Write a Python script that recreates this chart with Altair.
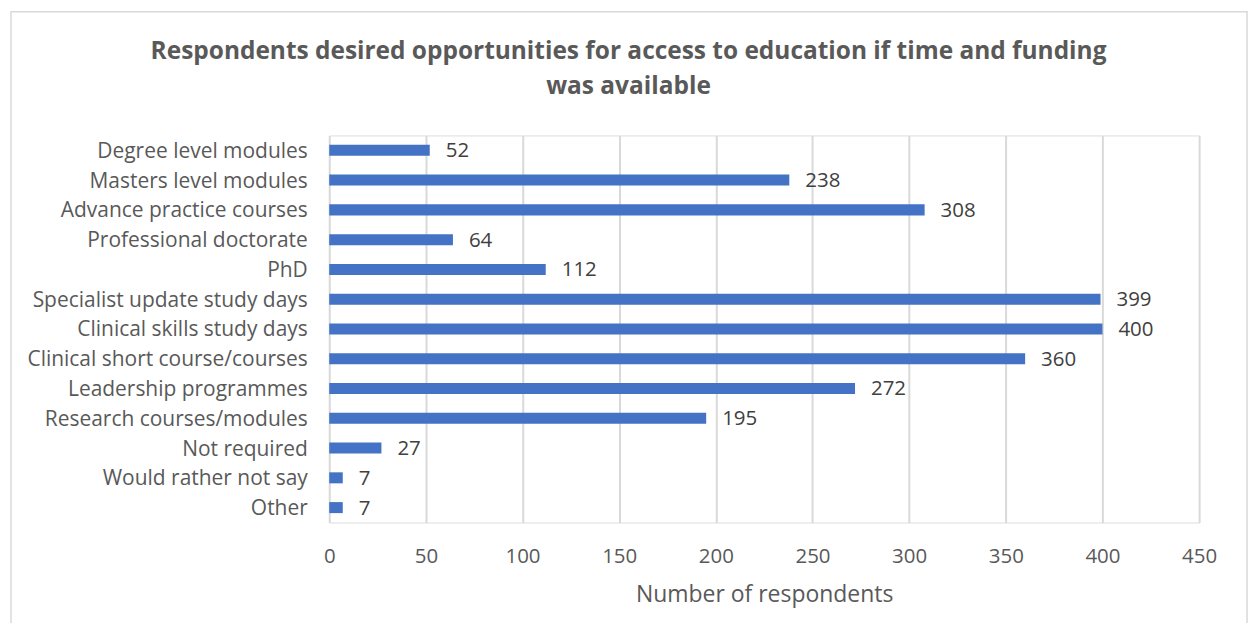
import altair as alt
import pandas as pd

categories = [
    "Degree level modules",
    "Masters level modules",
    "Advance practice courses",
    "Professional doctorate",
    "PhD",
    "Specialist update study days",
    "Clinical skills study days",
    "Clinical short course/courses",
    "Leadership programmes",
    "Research courses/modules",
    "Not required",
    "Would rather not say",
    "Other",
]
values = [52, 238, 308, 64, 112, 399, 400, 360, 272, 195, 27, 7, 7]
x_ticks = [0, 50, 100, 150, 200, 250, 300, 350, 400, 450]

df = pd.DataFrame({"category": categories, "value": values})

FONT = "Open Sans"
GRID = "#d9d9d9"
TXT = "#595959"

y_enc = alt.Y(
    "category:N",
    sort=categories,
    scale=alt.Scale(paddingInner=0.63, paddingOuter=0.315),
    axis=alt.Axis(
        title=None, ticks=False, domain=False, labelFontSize=21,
        labelColor=TXT, labelFont=FONT, labelPadding=22, labelLimit=400,
        labelOffset=1.5,
    ),
)
x_enc = alt.X(
    "value:Q",
    scale=alt.Scale(domain=[0, 450], nice=False),
    axis=alt.Axis(
        values=x_ticks, title="Number of respondents", ticks=False, domain=False,
        grid=True, gridColor=GRID, gridWidth=2, labelFontSize=20.5, labelColor=TXT,
        labelFont=FONT, labelPadding=24, labelFlush=False, titleFontSize=23,
        titleColor=TXT, titleFont=FONT, titleFontWeight="normal", titlePadding=17,
    ),
)

bars = alt.Chart(df).mark_bar(color="#4472C4").encode(x=x_enc, y=y_enc)
labels = alt.Chart(df).mark_text(
    align="left", baseline="middle", dx=16, dy=1, fontSize=20.5, font=FONT, color="#404040"
).encode(x="value:Q", y=alt.Y("category:N", sort=categories), text="value:Q")

border = alt.Chart(pd.DataFrame({"a": [0]})).mark_rect(
    fill="transparent", stroke=GRID, strokeWidth=1.5
).encode(
    x=alt.value(-319), x2=alt.value(920), y=alt.value(-124), y2=alt.value(700)
)

chart = alt.layer(border, bars, labels).properties(
    width=872,
    height=388,
    padding={"left": 322, "top": 127, "right": 50, "bottom": 100},
    autosize=alt.AutoSizeParams(type="none"),
    title=alt.TitleParams(
        text=["Respondents desired opportunities for access to education if time and funding",
              "was available"],
        font=FONT, fontSize=24.5, fontWeight="bold", color=TXT, anchor="middle",
        dx=-136, dy=119, lineHeight=35, offset=30,
    ),
).configure_view(stroke=None).configure(background="white")

chart.save("out.html", embed_options={"renderer": "svg", "actions": False})
